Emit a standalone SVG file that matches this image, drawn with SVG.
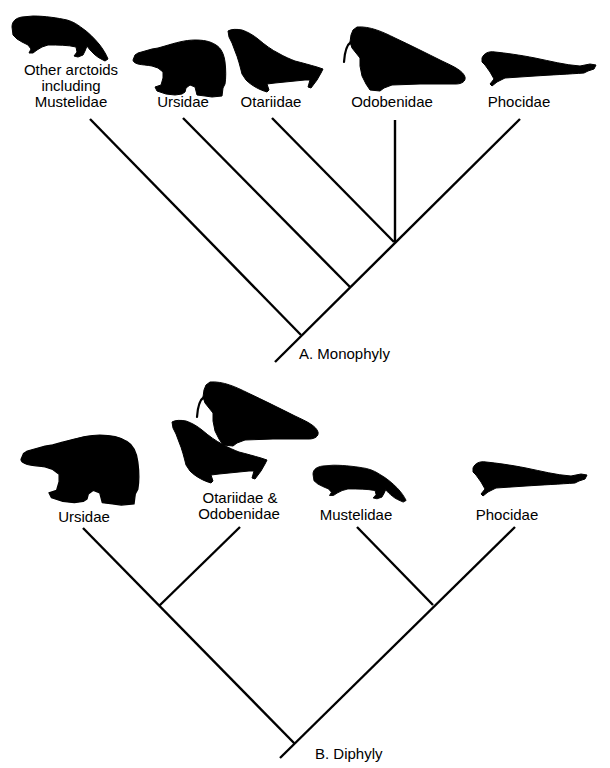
<svg xmlns="http://www.w3.org/2000/svg" xmlns:xlink="http://www.w3.org/1999/xlink" width="610" height="768" viewBox="0 0 610 768">
<style>
  .lbl { font-family: "Liberation Sans", Arial, sans-serif; font-size: 15px; fill: #000; text-anchor: middle; }
  .cap { font-family: "Liberation Sans", Arial, sans-serif; font-size: 15px; fill: #000; }
  .br { stroke: #000; stroke-width: 2.4; fill: none; stroke-linecap: butt; }
  .sil { fill: #000; stroke: #000; stroke-width: 1; stroke-linejoin: round; }
  .tusk { fill: none; stroke: #000; stroke-width: 2.2; stroke-linecap: round; }
</style>
<defs>
  <path id="mustelid" class="sil" d="M12,27 C12,21 16,18 22,17 L33,16 C45,16 58,18 67,20 C74,22 78,25 82,28 C88,32 94,38 99,44 C103,49 106,54 108,59 L105,61 C101,59 97,57 94,54 C91,51 89,49 87,46 L85,51 L83,55 L78,57 L74,56 L77,52 L76,47 C68,45 58,45 48,45 L42,47 L37,50 L33,53 L29,53 L31,49 L28,45 L22,42 L17,39 L13,35 Z"/>
  <path id="bear" class="sil" d="M133,60 L135,55 L138,53 L145,51 L152,49 L158,48 L165,46 C175,43 185,40 195,40 C203,40 210,41 216,45 C221,48 224,54 225,62 C226,70 226,78 225,84 L223,88 L222,96 L212,97 L205,96 L197,95 L195,87 L190,85 L186,88 L185,92 L182,94 L175,95 L166,94 L157,91 L155,87 L161,85 L163,78 L163,72 L158,68 L152,66 C147,65 142,65 138,64 C135,63 133,62 133,60 Z"/>
  <g id="walrus">
    <path class="sil" d="M357,27 C370,26 383,32 395,38 C410,45 428,54 442,61 C455,67 463,71 465,77 C466,81 462,84 456,84 L420,84 L392,85 L384,88 L380,91 L370,90 L366,84 L362,76 L360,66 L360,58 L356,53 L352,48 L350,42 L351,35 L353,30 Z"/>
    <path class="tusk" d="M351,42 Q345,46 344,62"/>
  </g>
  <path id="sealion" class="sil" d="M228,31 C231,29 237,29 242,30 C248,32 253,35 258,39 C265,45 272,50 278,53 C285,57 290,59 295,61 C303,63 310,65 317,67 L323,69 L321,73 L317,80 L311,88 L308,87 L310,80 L305,80 C295,81 285,82 275,83 L267,84 L269,90 L267,92 C260,90 252,86 246,80 L242,74 C240,66 238,58 235,51 L232,43 L229,37 Z"/>
  <path id="seal" class="sil" d="M482,58 C484,53 489,51 495,52 C505,53 520,55 535,58 C550,61 565,65 580,66 L590,64 L596,65 L594,69 L588,71 L584,73 C570,74 550,75 535,76 L505,78 L497,82 L492,86 L490,84 L494,79 L490,72 L485,65 L482,62 Z"/>
</defs>

<g id="connectors">
  <line class="br" x1="90" y1="119" x2="301" y2="335"/>
  <line class="br" x1="183" y1="118" x2="350" y2="287"/>
  <line class="br" x1="272" y1="118" x2="394" y2="242"/>
  <line class="br" x1="395" y1="120" x2="395" y2="242"/>
  <line class="br" x1="520" y1="119" x2="275" y2="362"/>
  <line class="br" x1="83" y1="528" x2="295" y2="744"/>
  <line class="br" x1="240" y1="527" x2="159" y2="606"/>
  <line class="br" x1="357" y1="527" x2="433" y2="605"/>
  <line class="br" x1="515" y1="527" x2="280" y2="758"/>
</g>

<g id="a-other-arctoids">
  <use xlink:href="#mustelid"/>
  <text class="lbl" x="71" y="75">Other arctoids</text>
  <text class="lbl" x="71" y="91">including</text>
  <text class="lbl" x="71" y="107">Mustelidae</text>
</g>
<g id="a-ursidae">
  <use xlink:href="#bear"/>
  <text class="lbl" x="183" y="107">Ursidae</text>
</g>
<g id="a-otariidae">
  <use xlink:href="#sealion"/>
  <text class="lbl" x="271" y="107">Otariidae</text>
</g>
<g id="a-odobenidae">
  <use xlink:href="#walrus"/>
  <text class="lbl" x="392" y="107">Odobenidae</text>
</g>
<g id="a-phocidae">
  <use xlink:href="#seal"/>
  <text class="lbl" x="519" y="107">Phocidae</text>
</g>
<g id="a-caption">
  <text class="cap" x="299" y="359">A. Monophyly</text>
</g>

<g id="b-ursidae">
  <use xlink:href="#bear" transform="translate(21,435) scale(1.27,1.23) translate(-133,-40)"/>
  <text class="lbl" x="84" y="522">Ursidae</text>
</g>
<g id="b-otariidae-odobenidae">
  <use xlink:href="#walrus" transform="translate(-147,355)"/>
  <use xlink:href="#sealion" transform="translate(-56,391)"/>
  <text class="lbl" x="240" y="503">Otariidae &amp;</text>
  <text class="lbl" x="239" y="519">Odobenidae</text>
</g>
<g id="b-mustelidae">
  <use xlink:href="#mustelid" transform="translate(313,466) scale(0.97,0.82) translate(-12,-17)"/>
  <text class="lbl" x="356" y="520">Mustelidae</text>
</g>
<g id="b-phocidae">
  <use xlink:href="#seal" transform="translate(-9,410)"/>
  <text class="lbl" x="507" y="520">Phocidae</text>
</g>
<g id="b-caption">
  <text class="cap" x="315" y="759">B. Diphyly</text>
</g>
</svg>
